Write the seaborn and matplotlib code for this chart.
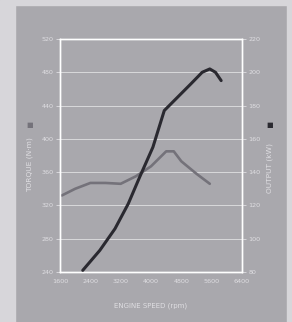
import matplotlib
matplotlib.use('Agg')
import matplotlib.pyplot as plt
import seaborn as sns
import pandas as pd
from matplotlib.patches import Rectangle

# data
torque_rpm = [1650, 2000, 2400, 2800, 3200, 3600, 4000, 4400, 4600, 4800, 5200, 5550]
torque_nm = [332, 340, 347, 347, 346, 355, 367, 385, 385, 373, 358, 346]

output_rpm = [2200, 2650, 3050, 3400, 3700, 4050, 4350, 4700, 5050, 5350, 5550, 5700, 5850]
output_kw = [81, 93, 106, 121, 137, 155, 177, 185, 193, 200, 202, 200, 195]

x_ticks = [1600, 2400, 3200, 4000, 4800, 5600, 6400]
torque_ticks = [240, 280, 320, 360, 400, 440, 480, 520]
output_ticks = [80, 100, 120, 140, 160, 180, 200, 220]

panel_col = '#a9a8ad'
outer_col = '#d7d6da'
text_col = '#dfdee2'
torque_col = '#74727a'
output_col = '#2a2930'

df_t = pd.DataFrame({'rpm': torque_rpm, 'val': torque_nm})
df_o = pd.DataFrame({'rpm': output_rpm, 'val': output_kw})

sns.set_style('white')
plt.rcParams['font.family'] = ['DejaVu Sans']

fig = plt.figure(figsize=(2.92, 3.22), dpi=100, facecolor=panel_col)
# light outer border strips of the scanned page
for r in [(0, 0, 15 / 292, 1), (287 / 292, 0, 5 / 292, 1), (0, 1 - 5 / 322, 1, 5 / 322)]:
    fig.patches.append(Rectangle(r[:2], r[2], r[3], transform=fig.transFigure,
                                 color=outer_col, zorder=-5))

ax = fig.add_axes([0.2055, 0.1553, 0.6233, 0.7236])
ax.set_facecolor(panel_col)
ax2 = ax.twinx()

sns.lineplot(data=df_t, x='rpm', y='val', ax=ax, color=torque_col, linewidth=1.9,
             zorder=3, solid_joinstyle='round', solid_capstyle='round')
sns.lineplot(data=df_o, x='rpm', y='val', ax=ax2, color=output_col, linewidth=2.2,
             zorder=4, solid_joinstyle='round', solid_capstyle='round')

ax.set_xlim(1600, 6400)
ax.set_ylim(240, 520)
ax2.set_ylim(80, 220)
ax.set_xticks(x_ticks)
ax.set_yticks(torque_ticks)
ax2.set_yticks(output_ticks)

ax.grid(True, axis='y', color='white', linewidth=0.6, alpha=0.65)
ax.set_axisbelow(True)

for a in (ax, ax2):
    for s in a.spines.values():
        s.set_color('white')
        s.set_linewidth(1.0)
    a.set_xlabel('')
    a.set_ylabel('')

ax.tick_params(axis='y', colors=text_col, labelsize=4.6, length=3, width=0.6, pad=1.5)
ax.tick_params(axis='x', colors=text_col, labelsize=4.6, length=0, pad=5)
ax2.tick_params(axis='y', colors=text_col, labelsize=4.6, length=3, width=0.6, pad=1.5)
for lab in ax.get_yticklabels() + ax2.get_yticklabels() + ax.get_xticklabels():
    lab.set_color(text_col)

fig.text(0.516, 0.052, 'ENGINE SPEED (rpm)', color=text_col, fontsize=5,
         ha='center', va='center')
fig.text(0.103, 0.49, 'TORQUE (N·m)', color=text_col, fontsize=5.4,
         rotation=90, ha='center', va='center')
fig.text(0.103, 0.612, '■', color=torque_col, fontsize=5, ha='center', va='center')
fig.text(0.925, 0.478, 'OUTPUT (kW)', color=text_col, fontsize=5.4,
         rotation=90, ha='center', va='center')
fig.text(0.925, 0.612, '■', color=output_col, fontsize=5, ha='center', va='center')

fig.savefig('out.png', dpi=100, facecolor=fig.get_facecolor())
